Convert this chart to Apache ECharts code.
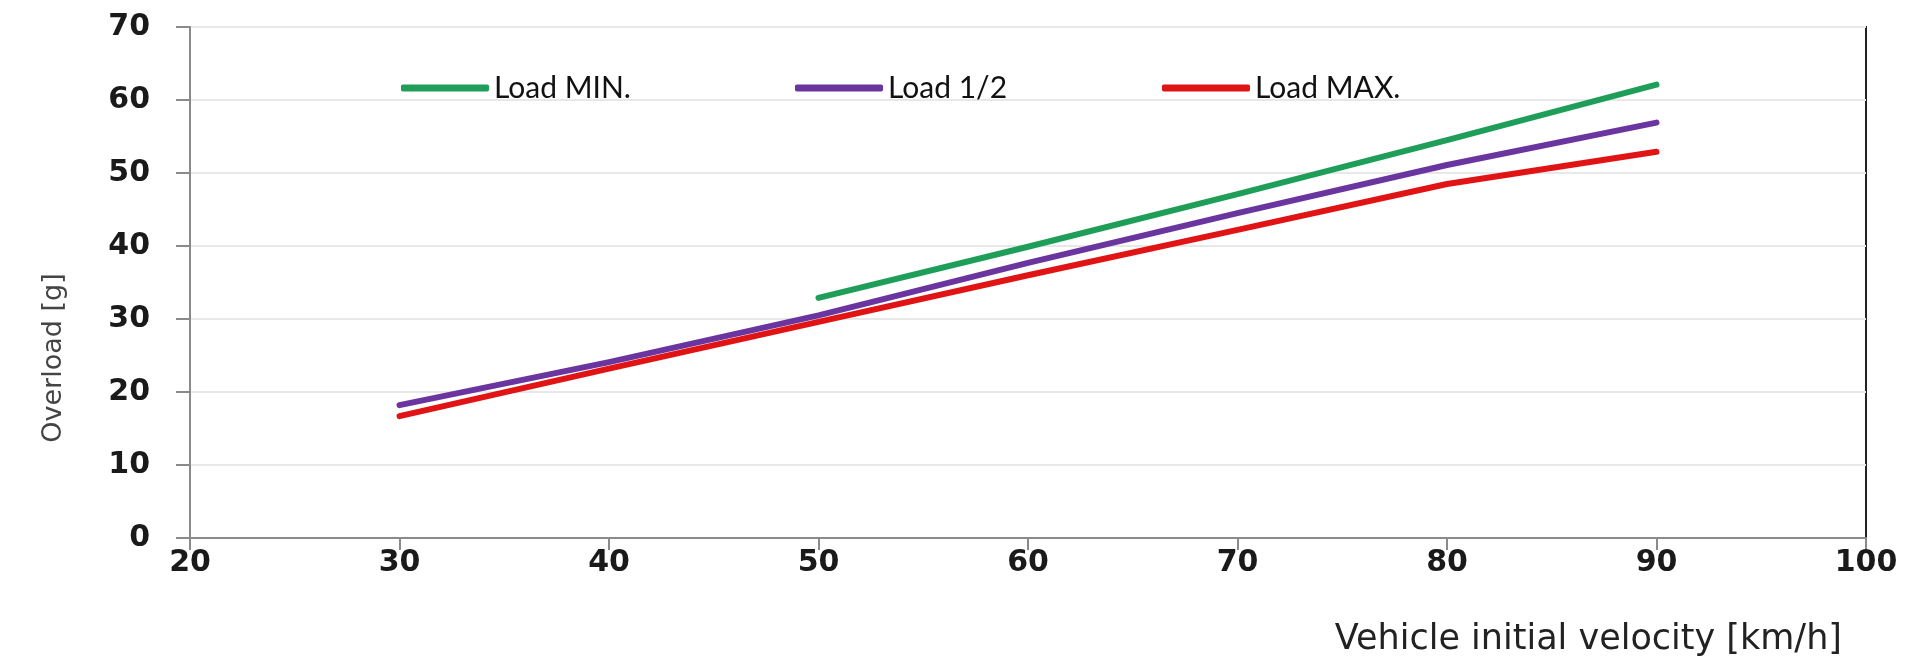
<!DOCTYPE html>
<html>
<head>
<meta charset="utf-8">
<script src="https://cdn.jsdelivr.net/npm/echarts@6/dist/echarts.min.js"></script>
<style>
html,body{margin:0;padding:0;background:#fff;}
#c{width:1905px;height:661px;}
</style>
</head>
<body>
<div id="c"></div>
<script>
const velocities = [30, 40, 50, 60, 70, 80, 90];
const loadMin = [null, null, 32.9, 39.9, 47.1, 54.5, 62.1];
const loadHalf = [18.2, 24.1, 30.5, 37.7, 44.5, 51.1, 56.9];
const loadMax = [16.7, 23.2, 29.6, 36.0, 42.2, 48.5, 52.9];
const seriesNames = ['Load MIN.', 'Load 1/2', 'Load MAX.'];
const seriesColors = ['#1f9e5a', '#6b35a0', '#e01414'];
const xTitle = 'Vehicle initial velocity [km/h]';
const yTitle = 'Overload [g]';

function pairs(arr){
  const out = [];
  velocities.forEach((v,i)=>{ if(arr[i]!==null) out.push([v, arr[i]]); });
  return out;
}
const allData = [loadMin, loadHalf, loadMax];

const chart = echarts.init(document.getElementById('c'));
const legendLefts = [396, 790, 1157];
const legendTextStyle = {fontFamily:'Lato', fontSize:30, color:'#111'};

chart.setOption({
  backgroundColor:'#fff',
  animation:false,
  grid:{left:190, right:39, top:27, bottom:123, show:true, borderColor:'#222', borderWidth:2, backgroundColor:'transparent'},
  legend: seriesNames.map((n,i)=>({
    data:[n], left:legendLefts[i], top:68, itemWidth:88, itemHeight:7, itemGap:4,
    icon:'roundRect', textStyle:legendTextStyle, selectedMode:false
  })),
  xAxis:{
    type:'value', min:20, max:100, interval:10,
    axisLine:{show:true, lineStyle:{color:'#8a8a8a', width:2}},
    axisTick:{show:true, length:12, lineStyle:{color:'#8a8a8a', width:2}},
    axisLabel:{margin:10, fontFamily:'DejaVu Sans', fontWeight:'bold', fontSize:30, color:'#1a1a1a'},
    splitLine:{show:false}
  },
  yAxis:{
    type:'value', min:0, max:70, interval:10,
    axisLine:{show:true, lineStyle:{color:'#8a8a8a', width:2}},
    axisTick:{show:true, length:14, lineStyle:{color:'#8a8a8a', width:2}},
    axisLabel:{margin:40, fontFamily:'DejaVu Sans', fontWeight:'bold', fontSize:30, color:'#1a1a1a'},
    splitLine:{show:true, lineStyle:{color:'#e8e8e8', width:2}}
  },
  graphic:[
    {type:'text', x:54, y:358, rotation:Math.PI/2,
     style:{text:yTitle, fontFamily:'DejaVu Sans', fontSize:27, fill:'#444', align:'center', verticalAlign:'middle'}},
    {type:'text', x:1842, y:640,
     style:{text:xTitle, fontFamily:'DejaVu Sans', fontSize:35, fill:'#222', align:'right', verticalAlign:'middle'}}
  ],
  series: seriesNames.map((n,i)=>({
    name:n, type:'line', data:pairs(allData[i]), showSymbol:false, symbol:'none',
    lineStyle:{color:seriesColors[i], width:6, cap:'round', join:'round'}, itemStyle:{color:seriesColors[i]},
    smooth:false
  }))
});
</script>
</body>
</html>
